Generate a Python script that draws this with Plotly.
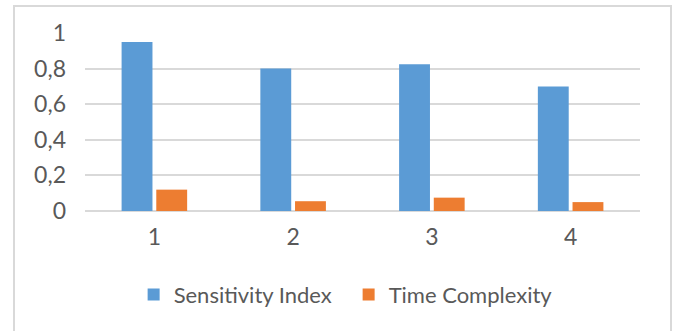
import plotly.graph_objects as go

categories = ["1", "2", "3", "4"]
sensitivity_index = [0.95, 0.80, 0.825, 0.70]
time_complexity = [0.12, 0.055, 0.075, 0.05]
y_tick_vals = [0, 0.2, 0.4, 0.6, 0.8, 1]
y_tick_text = ["0", "0,2", "0,4", "0,6", "0,8", "1"]

BLUE = "#5B9BD5"
ORANGE = "#ED7D31"
TEXT = "#595959"
GRID = "#D9D9D9"
FONT = "Lato"

fig = go.Figure()
fig.add_trace(go.Bar(x=categories, y=sensitivity_index, name="Sensitivity Index",
                     marker=dict(color=BLUE, line=dict(width=0))))
fig.add_trace(go.Bar(x=categories, y=time_complexity, name="Time Complexity",
                     marker=dict(color=ORANGE, line=dict(width=0))))

fig.update_layout(
    width=674, height=331,
    margin=dict(l=85, r=34, t=33, b=120),
    paper_bgcolor="white", plot_bgcolor="white",
    barmode="group", bargap=0.5, bargroupgap=0.11,
    font=dict(family=FONT, size=23, color=TEXT),
    showlegend=True,
    legend=dict(orientation="h", x=0.475, xanchor="center", y=-0.47, yanchor="middle",
                font=dict(family=FONT, size=22, color=TEXT), itemwidth=30,
                entrywidth=170, traceorder="normal"),
    xaxis=dict(showgrid=False, showline=False, ticks="", tickfont=dict(size=23, color=TEXT),
               ticklabelstandoff=10),
    yaxis=dict(range=[0, 1], tickvals=y_tick_vals, ticktext=y_tick_text,
               showgrid=True, gridcolor=GRID, gridwidth=2, zeroline=True,
               zerolinecolor=GRID, zerolinewidth=2, showline=False, ticks="",
               tickfont=dict(size=23, color=TEXT), ticklabelstandoff=18),
    shapes=[dict(type="rect", xref="paper", yref="paper",
                 x0=(14 - 85) / 555, x1=(671 - 85) / 555,
                 y0=-2, y1=(211 - 6) / 178,
                 line=dict(color=GRID, width=2), fillcolor="rgba(0,0,0,0)", layer="below")],
)

fig.write_html("out.html", config={"displayModeBar": False},
               post_script="document.body.style.margin='0';")
